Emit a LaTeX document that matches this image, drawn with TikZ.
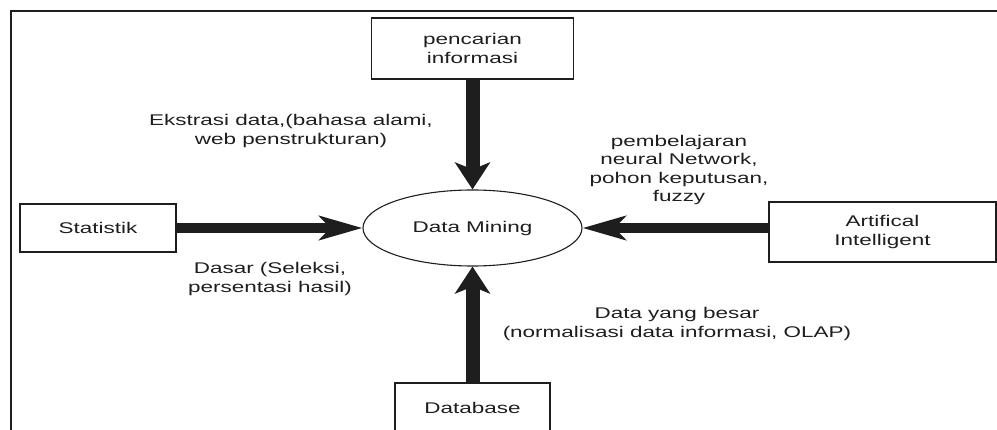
\documentclass[tikz,border=0pt]{standalone}
\usepackage{fontspec}
\setmainfont{Liberation Sans}[FakeStretch=1.45]
\usetikzlibrary{arrows.meta,shapes.geometric}
\definecolor{ink}{HTML}{1E1E1E}
\begin{document}
\begin{tikzpicture}[x=1pt,y=-1pt,
  every node/.style={font=\fontsize{15.5}{18.3}\selectfont, text=ink},
  box/.style={draw=ink, line width=1.3pt, rectangle, inner sep=0pt},
  label/.style={align=center, inner sep=0pt},
  harrow/.style={line width=10pt, -{Stealth[length=43pt, width=24pt, inset=11pt]}},
  varrow/.style={line width=14pt, -{Stealth[length=27pt, width=35pt, inset=7pt]}}]
  \useasboundingbox (0,0) rectangle (997,430);
  \begin{scope}
    \clip (0,0) rectangle (997,430);
    % outer frame
    \draw[ink, line width=1.6pt] (11,11) rectangle (1010,450);

    % central process
    \node[draw=ink, line width=1.1pt, ellipse, minimum width=219pt, minimum height=76pt, inner sep=0pt] (dm) at (472.5,228) {Data Mining};

    % sources
    \node[box, minimum width=202pt, minimum height=61pt] (pen) at (472.5,48.5) {};
    \node[label] at (pen) {pencarian\\informasi};
    \node[box, minimum width=156pt, minimum height=48pt] (stat) at (98,228) {Statistik};
    \node[box, minimum width=227pt, minimum height=60pt] (ai) at (882.5,232) {};
    \node[label] at (ai) {Artifical\\Intelligent};
    \node[box, minimum width=155pt, minimum height=50pt] (db) at (472.5,408) {Database};

    % flows into data mining
    \draw[varrow, ink] (pen.south) -- (dm.north);
    \draw[varrow, ink] (db.north) -- (dm.south);
    \draw[harrow, ink] (stat.east) -- (dm.west);
    \draw[harrow, ink] (ai.west |- dm.east) -- (dm.east);

    % flow descriptions
    \node[label] (lpen) at (291,131) {Ekstrasi data,(bahasa alami,\\web penstrukturan)};
    \node[label] (lai) at (679,170) {pembelajaran\\neural Network,\\pohon keputusan,\\fuzzy};
    \node[label] (lstat) at (270,279) {Dasar (Seleksi,\\persentasi hasil)};
    \node[label] (ldb) at (677,324) {Data yang besar\\(normalisasi data informasi, OLAP)};
  \end{scope}
\end{tikzpicture}
\end{document}
